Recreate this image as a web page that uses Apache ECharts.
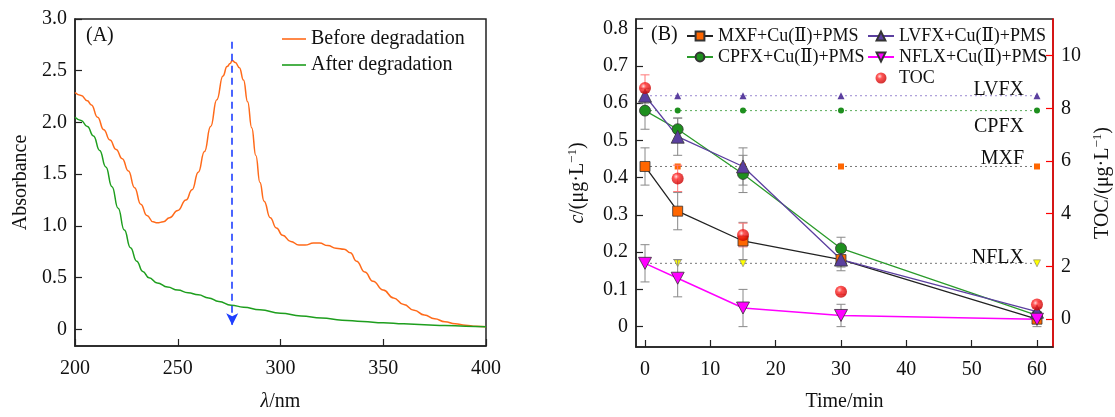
<!DOCTYPE html>
<html><head><meta charset="utf-8">
<script src="https://cdn.jsdelivr.net/npm/echarts@6/dist/echarts.min.js"></script>
<style>html,body{margin:0;padding:0;background:#fff}#c{width:1115px;height:417px}</style>
</head><body><div id="c"></div>
<script>
// ---- Panel A data ----
const wlBefore = [200,203,206,208,211,214,217,220,223,226,229,232,235,238,240,243,246,250,254,257,260,263,266,269,272,274,275.5,276.5,278,280,282,284,286,288,290,292,295,298,301,305,309,312,316,319,323,327,331,334,337,341,345,350,355,360,365,370,375,380,385,390,395,400];
const absBefore = [2.29,2.26,2.21,2.17,2.05,1.93,1.83,1.74,1.65,1.53,1.37,1.21,1.10,1.04,1.03,1.04,1.08,1.15,1.25,1.35,1.52,1.72,1.96,2.22,2.45,2.54,2.57,2.60,2.58,2.53,2.41,2.20,1.95,1.68,1.42,1.24,1.08,0.98,0.91,0.85,0.815,0.815,0.835,0.835,0.81,0.785,0.775,0.74,0.66,0.555,0.465,0.38,0.305,0.24,0.185,0.14,0.103,0.075,0.055,0.04,0.03,0.025];
const wlAfter = [200,203,206,209,212,215,218,221,224,227,230,233,236,240,245,250,255,260,265,270,276,282,290,300,310,320,330,340,350,360,370,380,390,400];
const absAfter = [2.05,2.02,1.96,1.87,1.73,1.57,1.38,1.17,0.96,0.79,0.66,0.56,0.50,0.45,0.41,0.38,0.355,0.335,0.305,0.27,0.235,0.215,0.19,0.157,0.13,0.11,0.09,0.076,0.064,0.054,0.045,0.038,0.031,0.025];
const arrowX = [276.5, 276.5];
const arrowY = [2.78, 0.04];
const absTicks = [0,0.5,1.0,1.5,2.0,2.5,3.0];

// ---- Panel B data ----
const times = [0,5,15,30,60];
const mxf = [0.43,0.31,0.23,0.18,0.02];
const mxfErr = [0.05,0.05,0.05,0.02,0.01];
const cpfx = [0.58,0.53,0.41,0.21,0.03];
const cpfxErr = [0.05,0.03,0.05,0.03,0.01];
const lvfx = [0.62,0.51,0.43,0.18,0.04];
const lvfxErr = [0.02,0.05,0.05,0.03,0.01];
const nflx = [0.17,0.13,0.05,0.03,0.02];
const nflxErr = [0.05,0.05,0.05,0.03,0.02];
const toc = [8.77,5.34,3.19,1.04,0.55];
const tocErr = [0.5,0.5,0.45,0.1,0.1];
const refNames = ['LVFX','CPFX','MXF','NFLX'];
const refValues = [0.62,0.58,0.43,0.17];
const cTicks = [0,0.1,0.2,0.3,0.4,0.5,0.6,0.7,0.8];
const tocTicks = [0,2,4,6,8,10];
const timeTicks = [0,10,20,30,40,50,60];

const FONT = '"Liberation Serif", "DejaVu Serif", "Times New Roman", serif';
const chart = echarts.init(document.getElementById('c'), null, {renderer:'canvas'});

const pair = (xs, ys) => xs.map((x,i)=>[x, ys[i]]);
const errData = (ys, es) => times.map((t,i)=>[t, ys[i]-es[i], ys[i]+es[i]]);
function errRender(params, api){
  const x = api.value(0), lo = api.value(1), hi = api.value(2);
  const a = api.coord([x, lo]), b = api.coord([x, hi]);
  const w = 4.5;
  const style = {stroke: api.visual('color'), lineWidth: 1};
  return {type:'group', children:[
    {type:'line', shape:{x1:a[0],y1:a[1],x2:b[0],y2:b[1]}, style},
    {type:'line', shape:{x1:a[0]-w,y1:a[1],x2:a[0]+w,y2:a[1]}, style},
    {type:'line', shape:{x1:b[0]-w,y1:b[1],x2:b[0]+w,y2:b[1]}, style}
  ]};
}
const errSeries = (ys, es, color, yIdx) => ({
  type:'custom', xAxisIndex:1, yAxisIndex:yIdx, renderItem: errRender,
  data: errData(ys, es), encode:{x:0, y:[1,2]}, itemStyle:{color}, z:2, silent:true, clip:false
});
const downTri = 'path://M0,0 L10,0 L5,9 Z';
const refColors = ['#9a88d0','#5aab5a','#777777','#777777'];
const refSymbols = ['triangle','circle','rect',downTri];
const refFill = ['#5b3f9f','#1e8f1e','#ff6600','#ffff00'];
const refSize = [7,6,6,7];

const axisLabelStyle = {fontFamily:FONT, fontSize:20, color:'#111'};
const nameStyle = {fontFamily:FONT, fontSize:20, color:'#111',
  rich:{i:{fontFamily:FONT,fontSize:20,fontStyle:'italic',color:'#111'},
        s:{fontFamily:FONT,fontSize:13,color:'#111',padding:[0,0,10,0]},
        n:{fontFamily:FONT,fontSize:20,color:'#111'}}};
const fmt1 = v => (Math.abs(v) < 1e-9 ? '0' : v.toFixed(1));
const blackLine = {onZero:false, lineStyle:{color:'#222',width:1.5}};
const blackTick = (vals) => ({inside:true,length:7,lineStyle:{color:'#222',width:1.2}, customValues:vals});

const option = {
  animation:false,
  backgroundColor:'#fff',
  title:[
    {text:'(A)', left:86, top:26, padding:0, textStyle:{fontFamily:FONT,fontSize:20,fontWeight:'normal',color:'#111'}},
    {text:'(B)', left:651, top:25, padding:0, textStyle:{fontFamily:FONT,fontSize:20,fontWeight:'normal',color:'#111'}}
  ],
  legend:[
    {data:['Before degradation','After degradation'], orient:'vertical', left:282, top:29, padding:0,
     icon:'rect', itemWidth:24, itemHeight:1.6, itemGap:6, textStyle:{fontFamily:FONT,fontSize:20,color:'#111'}},
    {data:['MXF+Cu(Ⅱ)+PMS','CPFX+Cu(Ⅱ)+PMS'], orient:'vertical', left:686, top:27, padding:0,
     itemWidth:26, itemHeight:11, itemGap:3, textStyle:{fontFamily:FONT,fontSize:18,color:'#111'}},
    {data:['LVFX+Cu(Ⅱ)+PMS','NFLX+Cu(Ⅱ)+PMS','TOC'], orient:'vertical', left:867, top:27, padding:0,
     itemWidth:26, itemHeight:11, itemGap:3, textStyle:{fontFamily:FONT,fontSize:18,color:'#111'}}
  ],
  grid:[
    {left:75, top:19, width:411, height:338, show:true, borderColor:'#222', borderWidth:1.5, backgroundColor:'transparent'},
    {left:636, top:19, width:417, height:338, show:true, borderColor:'#222', borderWidth:1.5, backgroundColor:'transparent'}
  ],
  xAxis:[
    {gridIndex:0, type:'value', min:200, max:400, interval:50,
     name:'{i|λ}{n|/nm}', nameLocation:'middle', nameGap:46, nameTextStyle:nameStyle,
     axisLine:blackLine, axisTick:{inside:true,length:7,lineStyle:{color:'#222',width:1.2}},
     axisLabel:Object.assign({margin:13}, axisLabelStyle), splitLine:{show:false}},
    {gridIndex:1, type:'value', min:-1.38, max:62.45,
     name:'Time/min', nameLocation:'middle', nameGap:45, nameTextStyle:nameStyle,
     axisLine:blackLine, axisTick:blackTick(timeTicks),
     axisLabel:Object.assign({margin:13, customValues:timeTicks}, axisLabelStyle), splitLine:{show:false}}
  ],
  yAxis:[
    {gridIndex:0, type:'value', min:-0.16, max:3.0,
     name:'Absorbance', nameLocation:'middle', nameGap:44, nameRotate:90, nameTextStyle:nameStyle,
     axisLine:blackLine, axisTick:blackTick(absTicks),
     axisLabel:Object.assign({margin:8, customValues:absTicks, formatter:fmt1}, axisLabelStyle), splitLine:{show:false}},
    {gridIndex:1, type:'value', min:-0.0547, max:0.826,
     name:'{i|c}{n|/(μg·L}{s|−1}{n|)}', nameLocation:'middle', nameGap:47, nameRotate:90, nameTextStyle:nameStyle,
     axisLine:blackLine, axisTick:blackTick(cTicks),
     axisLabel:Object.assign({margin:8, customValues:cTicks, formatter:fmt1}, axisLabelStyle), splitLine:{show:false}},
    {gridIndex:1, type:'value', position:'right', min:-1.06, max:11.39,
     name:'{n|TOC/(μg·L}{s|−1}{n|)}', nameLocation:'middle', nameGap:38, nameRotate:90, nameTextStyle:nameStyle,
     axisLine:{show:true, onZero:false, lineStyle:{color:'#ff0000',width:1.5}},
     axisTick:{inside:true,length:7,lineStyle:{color:'#ff0000',width:1.2}, customValues:tocTicks},
     axisLabel:Object.assign({margin:8, customValues:tocTicks}, axisLabelStyle), splitLine:{show:false}}
  ],
  graphic: refNames.map((n,i)=>({
    type:'text', right: 1115-1024, top: [80,117,149,248][i], z:10,
    style:{text:n, font:'20px "Liberation Serif"', fill:'#111'}
  })),
  series:[
    {name:'Before degradation', type:'line', xAxisIndex:0, yAxisIndex:0, data:pair(wlBefore, absBefore),
     showSymbol:false, symbol:'none', smooth:0.5, smoothMonotone:'x', lineStyle:{color:'#ff6a1a', width:1.5}, itemStyle:{color:'#ff6a1a'},
     markLine:{silent:true, symbol:['none','arrow'], symbolSize:[9,12], label:{show:false},
       lineStyle:{color:'#1f3fff', width:1.6, type:[7,5]},
       data:[[{coord:[arrowX[0], arrowY[0]]},{coord:[arrowX[1], arrowY[1]]}]]}},
    {name:'After degradation', type:'line', xAxisIndex:0, yAxisIndex:0, data:pair(wlAfter, absAfter),
     showSymbol:false, symbol:'none', smooth:0.5, smoothMonotone:'x', lineStyle:{color:'#1e9e1e', width:1.5}, itemStyle:{color:'#1e9e1e'}},
    ...refValues.map((v,i)=>({
      name:refNames[i]+' ref', type:'line', xAxisIndex:1, yAxisIndex:1, data: times.map(t=>[t, v]),
      symbol:refSymbols[i], symbolSize:refSize[i], z:1, silent:true,
      lineStyle:{color:refColors[i], width:1, type:[2,3]},
      itemStyle:{color:refFill[i], borderColor: i===3 ? '#777' : refFill[i], borderWidth: i===3 ? 0.6 : 0}
    })),
    errSeries(mxf, mxfErr, '#888', 1),
    errSeries(cpfx, cpfxErr, '#888', 1),
    errSeries(lvfx, lvfxErr, '#888', 1),
    errSeries(nflx, nflxErr, '#888', 1),
    errSeries(toc, tocErr, '#ff7777', 2),
    {name:'MXF+Cu(Ⅱ)+PMS', type:'line', xAxisIndex:1, yAxisIndex:1, data:pair(times, mxf), z:3,
     symbol:'rect', symbolSize:10, lineStyle:{color:'#222', width:1.3},
     itemStyle:{color:'#ff6600', borderColor:'#333', borderWidth:0.8}},
    {name:'CPFX+Cu(Ⅱ)+PMS', type:'line', xAxisIndex:1, yAxisIndex:1, data:pair(times, cpfx), z:3,
     symbol:'circle', symbolSize:11, lineStyle:{color:'#2a9a2a', width:1.3},
     itemStyle:{color:'#1e8f1e', borderColor:'#333', borderWidth:0.8}},
    {name:'LVFX+Cu(Ⅱ)+PMS', type:'line', xAxisIndex:1, yAxisIndex:1, data:pair(times, lvfx), z:3,
     symbol:'triangle', symbolSize:13, lineStyle:{color:'#5b3f9f', width:1.3},
     itemStyle:{color:'#5b3f9f', borderColor:'#333', borderWidth:0.8}},
    {name:'NFLX+Cu(Ⅱ)+PMS', type:'line', xAxisIndex:1, yAxisIndex:1, data:pair(times, nflx), z:3,
     symbol:downTri, symbolSize:[13,12], lineStyle:{color:'#ff00ff', width:1.5},
     itemStyle:{color:'#ff00ff', borderColor:'#333', borderWidth:0.8}},
    {name:'TOC', type:'scatter', xAxisIndex:1, yAxisIndex:2, data:pair(times, toc), z:4,
     symbol:'circle', symbolSize:12,
     itemStyle:{color:new echarts.graphic.RadialGradient(0.38,0.35,0.65,[
       {offset:0,color:'#ffd6d6'},{offset:0.35,color:'#ff2a2a'},{offset:1,color:'#c80000'}])}}
  ]
};
chart.setOption(option);
</script></body></html>
